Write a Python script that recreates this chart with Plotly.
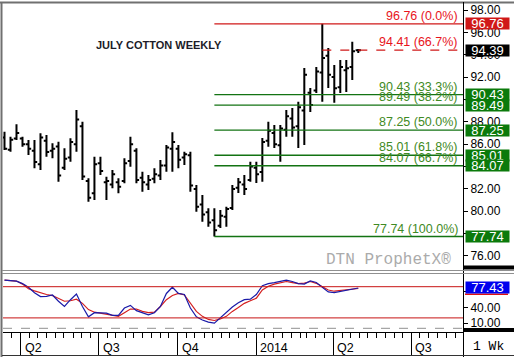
import pandas as pd
import plotly.graph_objects as go

# ---------------- data ----------------
first_week = "2013-03-13"
n_weeks = 60

opens = [86.6, 85.5, 86.5, 86.5, 86.0, 85.4, 84.2, 86.3, 85.4, 85.8,
         83.9, 84.8, 86.0, 87.6, 82.7, 81.6, 84.3, 82.6, 82.4, 82.6,
         82.7, 84.5, 85.4, 83.0, 82.4, 82.9, 83.2, 84.1, 85.6, 85.6,
         84.8, 85.0, 82.0, 80.6, 79.9, 79.2, 78.7, 79.5, 80.3, 82.1,
         82.4, 82.8, 83.9, 83.5, 86.3, 87.0, 85.9, 87.3, 88.3, 87.6,
         89.0, 90.6, 90.8, 92.4, 93.9, 92.0, 91.1, 92.6, 92.9, 94.4]
highs = [87.11, 86.67, 87.78, 86.67, 86.37, 86.37, 86.97, 86.82, 86.08, 86.22,
         85.63, 86.52, 89.06, 88.01, 82.95, 84.88, 84.88, 83.09, 83.69, 82.95,
         84.74, 86.67, 85.63, 83.54, 83.24, 83.84, 84.58, 85.93, 87.06, 85.93,
         85.33, 85.33, 82.35, 81.45, 80.26, 80.26, 80.11, 80.41, 82.35, 82.97,
         83.24, 84.43, 84.43, 86.55, 88.01, 87.71, 87.71, 89.06, 89.23, 89.80,
         92.81, 91.02, 92.90, 96.76, 94.60, 93.08, 93.53, 93.53, 95.16, 94.51]
lows = [85.48, 85.33, 86.37, 85.77, 85.03, 83.84, 83.69, 84.88, 84.74, 82.64,
        83.69, 84.43, 85.33, 82.79, 80.85, 81.01, 83.24, 81.01, 82.05, 81.60,
        82.50, 83.98, 82.50, 81.75, 81.90, 82.50, 82.79, 83.54, 83.54, 83.84,
        84.14, 81.75, 79.96, 79.06, 78.62, 77.74, 78.50, 78.62, 80.11, 81.63,
        81.45, 82.64, 82.53, 82.64, 85.77, 85.66, 84.43, 86.67, 86.67, 85.66,
        85.93, 88.88, 90.58, 89.80, 91.02, 89.71, 90.58, 90.67, 91.74, 94.15]
closes = [85.6, 86.4, 87.0, 86.0, 85.6, 84.4, 86.6, 85.3, 85.6, 83.2,
          84.7, 86.2, 88.2, 83.1, 81.2, 84.2, 83.6, 82.7, 83.3, 82.2,
          84.3, 86.0, 82.8, 82.6, 82.8, 83.3, 84.1, 85.7, 86.2, 84.6,
          85.1, 82.3, 80.4, 79.7, 79.0, 78.3, 79.6, 80.2, 82.0, 82.6,
          82.0, 84.0, 83.3, 86.2, 87.2, 86.0, 87.4, 88.5, 87.5, 89.3,
          92.2, 89.5, 92.5, 93.7, 92.2, 91.0, 92.9, 92.8, 94.3, 94.39]

stoch_k = [92.7, 92.0, 90.8, 86.0, 79.0, 68.5, 61.0, 61.5, 64.0, 52.0,
           42.0, 55.0, 66.0, 42.0, 22.0, 30.0, 30.0, 29.0, 25.0, 25.0,
           39.0, 44.0, 34.0, 30.0, 26.0, 30.0, 42.0, 67.0, 79.0, 67.0,
           65.0, 39.0, 22.0, 16.0, 12.0, 10.0, 20.0, 30.0, 41.0, 49.0,
           55.0, 56.0, 65.0, 82.0, 86.0, 88.0, 91.0, 92.7, 90.0, 86.0,
           85.0, 91.0, 88.0, 79.0, 70.0, 68.5, 71.0, 73.7, 76.0, 77.43]
stoch_d = [92.7, 92.0, 90.8, 85.0, 76.0, 72.0, 68.0, 65.0, 63.0, 58.0,
           52.0, 53.0, 56.0, 48.0, 36.0, 31.0, 29.0, 27.5, 25.0, 23.0,
           30.0, 37.0, 37.0, 32.5, 30.0, 31.0, 42.0, 55.0, 63.0, 67.0,
           64.0, 48.0, 32.5, 23.0, 17.0, 15.0, 18.0, 23.0, 32.5, 40.0,
           48.0, 53.0, 58.0, 73.7, 81.0, 85.0, 88.0, 90.0, 88.0, 86.0,
           87.0, 90.0, 86.5, 80.0, 73.7, 71.3, 72.5, 74.6, 76.0, 76.5]

fib_values = [96.76, 94.41, 90.43, 89.49, 87.25, 85.01, 84.07, 77.74]
fib_pcts = ["0.0%", "66.7%", "33.3%", "38.2%", "50.0%", "61.8%", "66.7%", "100.0%"]
fib_kind = ["red", "reddash", "green", "green", "green", "green", "green", "green"]
fib_start_week = [35, 53, 35, 35, 35, 35, 35, 35]

price_ticks = [76, 78, 80, 82, 84, 86, 88, 90, 92, 94, 96, 98]
price_tick_text = ["76.00", "", "80.00", "82.00", "", "86.00", "88.00", "", "92.00", "94.00", "96.00", "98.00"]
stoch_ticks = [10, 40, 70]
stoch_tick_text = ["10.00", "40.00", ""]
stoch_bands = [80, 20]
stoch_floor = 0

quarter_starts = ["2013-04-01", "2013-07-01", "2013-10-01", "2014-01-01", "2014-04-01", "2014-07-01"]
quarter_labels = ["Q2", "Q3", "Q4", "2014", "Q2", "Q3"]

title_text = "JULY COTTON WEEKLY"
watermark = "DTN ProphetX®"
period_text = "1 Wk"

# ---------------- geometry helpers ----------------
W, H = 514, 357
def PX(px):
    return px / W
def PY(py):
    return 1 - py / H

dates = pd.date_range(first_week, periods=n_weeks, freq="7D")
x_start = dates[0] - pd.Timedelta(days=1.75)
x_end = x_start + pd.Timedelta(days=537)

minor_ticks = []
for m in pd.date_range("2013-03-01", "2014-09-01", freq="MS"):
    for d in (1, 11, 21):
        t = m + pd.Timedelta(days=d - 1)
        if t.strftime("%Y-%m-%d") not in quarter_starts:
            minor_ticks.append(t)

SANS = "Liberation Sans, Arial, sans-serif"
MONO = "Liberation Mono, Courier New, monospace"
RED_TXT = "#e8141c"
RED_LINE = "#d01818"
GREEN_TXT = "#3f8a24"
GREEN_LINE = "#137313"
GREEN_BOX = "#0b7a0b"

fig = go.Figure()

fig.add_trace(go.Ohlc(
    x=dates, open=opens, high=highs, low=lows, close=closes,
    increasing=dict(line=dict(color="black", width=2)),
    decreasing=dict(line=dict(color="black", width=2)),
    tickwidth=0.45, xaxis="x", yaxis="y", showlegend=False, hoverinfo="skip"))

fig.add_trace(go.Scatter(x=dates, y=stoch_d, mode="lines",
                         line=dict(color="#d42020", width=1.2),
                         xaxis="x2", yaxis="y2", showlegend=False, hoverinfo="skip"))
fig.add_trace(go.Scatter(x=dates, y=stoch_k, mode="lines",
                         line=dict(color="#1a1aa8", width=1.2),
                         xaxis="x2", yaxis="y2", showlegend=False, hoverinfo="skip"))

shapes = []
annotations = []

# Fibonacci lines & labels
for v, p, k, s in zip(fib_values, fib_pcts, fib_kind, fib_start_week):
    col = GREEN_LINE if k == "green" else RED_LINE
    dash = "dash" if k == "reddash" else "solid"
    shapes.append(dict(type="line", xref="x", yref="y", x0=dates[s], x1=x_end,
                       y0=v, y1=v, line=dict(color=col, width=1.3, dash=dash)))
    annotations.append(dict(xref="paper", yref="y", x=PX(460), y=v, xanchor="right",
                            yanchor="middle", yshift=8, showarrow=False,
                            text=f"{v:.2f} ({p})",
                            font=dict(family=SANS, size=12.5,
                                      color=GREEN_TXT if k == "green" else RED_TXT)))
    if k != "reddash":
        annotations.append(dict(xref="paper", yref="y", x=PX(465), y=v, xanchor="left",
                                yanchor="middle", showarrow=False, text=f"{v:.2f}",
                                width=43, height=11, borderpad=0, align="center",
                                bgcolor=RED_LINE if k == "red" else GREEN_BOX,
                                font=dict(family=SANS, size=13, color="white")))

# last price box
annotations.append(dict(xref="paper", yref="y", x=PX(465), y=closes[-1], xanchor="left",
                        yanchor="middle", showarrow=False, text=f"{closes[-1]:.2f}",
                        width=43, height=11, borderpad=0, align="center", bgcolor="black",
                        font=dict(family=SANS, size=13, color="white")))
# stochastic box
shapes.append(dict(type="rect", xref="paper", yref="y2", x0=PX(465), x1=PX(508),
                   y0=stoch_d[-1] - 12.5, y1=stoch_d[-1] - 9.5, fillcolor="#e01010",
                   line=dict(width=0), layer="above"))
annotations.append(dict(xref="paper", yref="y2", x=PX(465), y=stoch_k[-1], xanchor="left",
                        yanchor="middle", yshift=1, showarrow=False, text=f"{stoch_k[-1]:.2f}",
                        width=43, height=11, borderpad=0, align="center", bgcolor="#0000ee",
                        font=dict(family=SANS, size=13, color="white")))

# stochastic guide lines
for b in stoch_bands:
    shapes.append(dict(type="line", xref="paper", yref="y2", x0=PX(3), x1=PX(463),
                       y0=b, y1=b, line=dict(color="#c81414", width=1)))
shapes.append(dict(type="line", xref="paper", yref="y2", x0=PX(3), x1=PX(463),
                   y0=stoch_floor, y1=stoch_floor, line=dict(color="#909090", width=1, dash="dash")))

# frame
frame_lines = [
    (0, 2.5, W, 2.5, "#707070", 2),
    (1.5, 2, 1.5, H, "#707070", 2),
    (463.5, 2, 463.5, H, "black", 1),
    (2, 270.5, W, 270.5, "#909090", 1),
    (2, 273.5, W, 273.5, "#909090", 1),
    (2, 355.5, W, 355.5, "#333333", 1),
]
for x0, y0, x1, y1, c, w in frame_lines:
    shapes.append(dict(type="line", xref="paper", yref="paper", x0=PX(x0), y0=PY(y0),
                       x1=PX(x1), y1=PY(y1), line=dict(color=c, width=w), layer="above"))
for y0, y1 in ((265.5, 269.5), (328, 332)):
    shapes.append(dict(type="rect", xref="paper", yref="paper", x0=PX(463), x1=1,
                       y0=PY(y1), y1=PY(y0), fillcolor="black", line=dict(width=0), layer="above"))

# quarter labels
for q, lab in zip(quarter_starts, quarter_labels):
    annotations.append(dict(xref="x2", yref="paper", x=q, y=PY(347.5), xanchor="left",
                            yanchor="middle", xshift=2, showarrow=False, text=lab,
                            font=dict(family=SANS, size=12.5, color="black")))

annotations.append(dict(xref="paper", yref="paper", x=PX(159), y=PY(45), showarrow=False,
                        text=f"<b>{title_text}</b>", xanchor="center", yanchor="middle",
                        font=dict(family=SANS, size=11, color="#1c1c28")))
annotations.append(dict(xref="paper", yref="paper", x=PX(453), y=PY(260), showarrow=False,
                        text=watermark, xanchor="right", yanchor="middle",
                        font=dict(family=MONO, size=16, color="#ababab")))
annotations.append(dict(xref="paper", yref="paper", x=PX(488), y=PY(346), showarrow=False,
                        text=period_text, xanchor="center", yanchor="middle",
                        font=dict(family=MONO, size=13, color="black")))

fig.update_layout(
    width=W, height=H, margin=dict(l=0, r=0, t=0, b=0),
    paper_bgcolor="white", plot_bgcolor="white", showlegend=False,
    shapes=shapes, annotations=annotations,
    xaxis=dict(domain=[PX(3), PX(463)], anchor="y", range=[x_start, x_end],
               showticklabels=False, ticks="", showgrid=False, zeroline=False,
               rangeslider=dict(visible=False)),
    yaxis=dict(domain=[PY(269), PY(3)], anchor="x", side="right", range=[74.834, 98.626],
               tickvals=price_ticks, ticktext=price_tick_text, ticks="outside", ticklen=4,
               tickcolor="black", showgrid=False, zeroline=False, showline=False,
               tickfont=dict(family=SANS, size=12, color="black")),
    xaxis2=dict(domain=[PX(3), PX(463)], anchor="y2", matches="x", range=[x_start, x_end],
                tickvals=quarter_starts, showticklabels=False, ticks="outside", ticklen=22,
                tickcolor="black", tickwidth=1, showline=True, linecolor="black", linewidth=1,
                showgrid=False, zeroline=False,
                minor=dict(tickvals=minor_ticks, ticks="outside", ticklen=5,
                           tickcolor="black", tickwidth=1, showgrid=False)),
    yaxis2=dict(domain=[PY(332), PY(274)], anchor="x2", side="right", range=[-7.12, 104.42],
                tickvals=stoch_ticks, ticktext=stoch_tick_text, ticks="outside", ticklen=4,
                tickcolor="black", showgrid=False, zeroline=False,
                tickfont=dict(family=SANS, size=12, color="black")),
)

fig.write_html("out.html", config={"displayModeBar": False, "staticPlot": True},
               post_script="document.body.style.margin='0';document.body.style.overflow='hidden';")
